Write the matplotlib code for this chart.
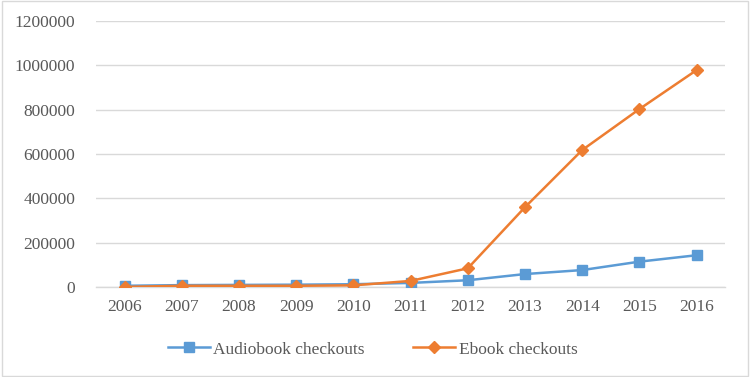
import matplotlib.pyplot as plt
from matplotlib.patches import Rectangle

plt.rcParams['font.family'] = ['Liberation Serif', 'DejaVu Serif']

# data
years = ['2006', '2007', '2008', '2009', '2010', '2011', '2012', '2013', '2014', '2015', '2016']
audiobook = [5000, 8000, 9000, 10000, 12000, 18000, 30000, 58000, 76000, 114000, 143000]
ebook = [0, 5000, 5000, 5000, 7000, 27000, 84000, 360000, 618000, 803000, 979000]

blue = '#5B9BD5'
orange = '#ED7D31'
txt = '#595959'

fig = plt.figure(figsize=(7.5, 3.77), dpi=100)
ax = fig.add_axes([0.128, 0.239, 0.839, 0.705])

x = range(len(years))
ax.plot(x, audiobook, color=blue, marker='s', markersize=7, linewidth=1.8,
        label='Audiobook checkouts', zorder=3)
ax.plot(x, ebook, color=orange, marker='D', markersize=6.5, linewidth=1.8,
        label='Ebook checkouts', zorder=4)

ax.set_xlim(-0.5, len(years) - 0.5)
ax.set_ylim(0, 1200000)
ax.set_yticks(range(0, 1200001, 200000))
ax.set_yticklabels([str(v) for v in range(0, 1200001, 200000)])
ax.set_xticks(list(x))
ax.set_xticklabels(years)
ax.tick_params(axis='both', length=0, labelsize=12.5, labelcolor=txt)
ax.tick_params(axis='y', pad=15)
ax.tick_params(axis='x', pad=9)
ax.grid(axis='y', color='#D9D9D9', linewidth=1)
ax.set_axisbelow(True)
for s in ['top', 'right', 'left']:
    ax.spines[s].set_visible(False)
ax.spines['bottom'].set_color('#D9D9D9')
ax.spines['bottom'].set_linewidth(1)

leg = fig.legend(loc='center', bbox_to_anchor=(0.497, 0.073), ncol=2, frameon=False,
                 fontsize=12.5, handlelength=2.4, columnspacing=2.8, handletextpad=0.2)
for t in leg.get_texts():
    t.set_color(txt)

# outer chart border
fig.patches.append(Rectangle((0.003, 0.003), 0.994, 0.994, transform=fig.transFigure,
                             fill=False, edgecolor='#D9D9D9', linewidth=1))

fig.savefig('out.png', dpi=100)
